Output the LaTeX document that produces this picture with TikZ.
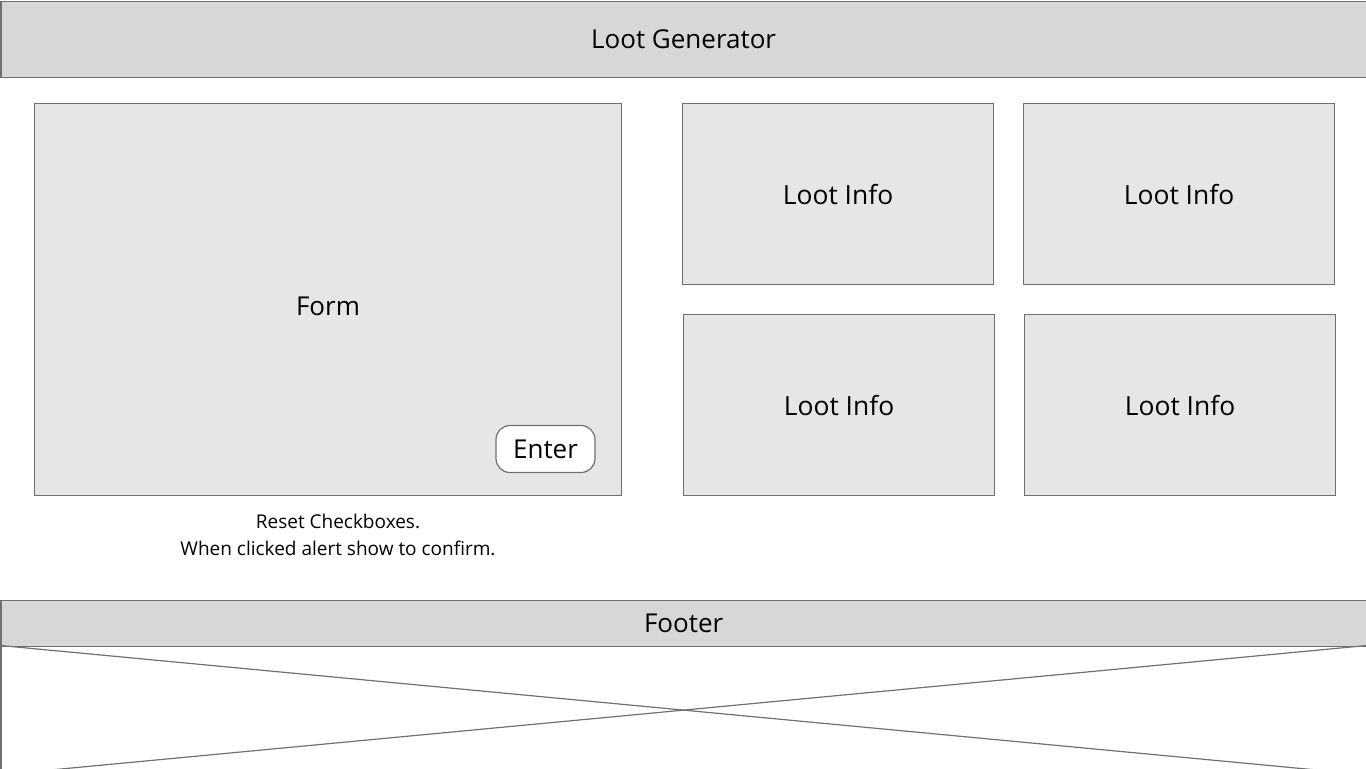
\documentclass[tikz,border=0pt]{standalone}
\usepackage{fontspec}
\setmainfont{Open Sans}
\usetikzlibrary{positioning}
\definecolor{edgegray}{HTML}{707070}
\definecolor{bargray}{HTML}{D7D7D7}
\definecolor{panelgray}{HTML}{E6E6E6}

\begin{document}
\begin{tikzpicture}[
    x=0.5pt, y=-0.5pt,
    box/.style={draw=edgegray, line width=0.6pt, inner sep=0pt, anchor=north west},
    bar/.style={box, fill=bargray, minimum width=682.5pt, font=\fontsize{13}{15}\selectfont},
    panel/.style={box, fill=panelgray, font=\fontsize{13.2}{16}\selectfont},
    info/.style={panel, minimum width=155.5pt, minimum height=90.5pt},
    button/.style={draw=edgegray, line width=0.6pt, fill=white, rounded corners=7pt,
        minimum width=49.5pt, minimum height=23.5pt, inner sep=0pt, font=\fontsize{13}{16}\selectfont}
]
    \useasboundingbox (0,0) rectangle (1366,768);

    \node[bar, minimum height=38pt] (header) at (0.5,0.5) {Loot Generator};

    \node[panel, minimum width=293.5pt, minimum height=196pt] (form) at (34,103) {};
    \node[font=\fontsize{13}{16}\selectfont] (formlabel) at (328,306) {Form};
    \node[button] (enter) at (545.5,449) {Enter};
    \node[align=center, font=\fontsize{9.5}{13.5}\selectfont] (note) at (338,535)
        {Reset Checkboxes.\\When clicked alert show to confirm.};

    \node[info] (info1) at (682,103) {\raisebox{-1pt}{Loot Info}};
    \node[info] (info2) at (1023,103) {\raisebox{-1pt}{Loot Info}};
    \node[info] (info3) at (683,314) {\raisebox{-1pt}{Loot Info}};
    \node[info] (info4) at (1024,314) {\raisebox{-1pt}{Loot Info}};

    \node[bar, minimum height=23pt] (footer) at (0.5,599.5) {Footer};
    \node[box, minimum width=682.5pt, minimum height=64pt] (filler) at (0.5,645.5) {};
    \draw[edgegray, line width=0.6pt] (filler.north west) -- (filler.south east);
    \draw[edgegray, line width=0.6pt] (filler.north east) -- (filler.south west);
\end{tikzpicture}
\end{document}
